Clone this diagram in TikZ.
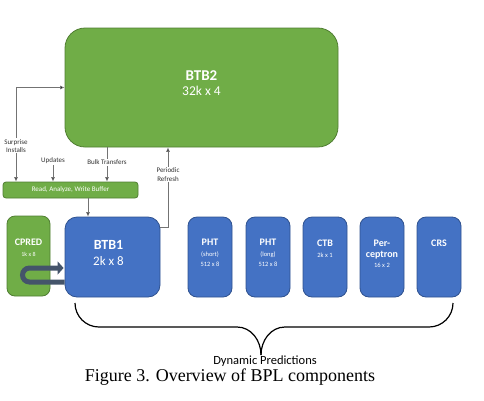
\documentclass[tikz,border=0pt]{standalone}
\usepackage{fontspec}
\setmainfont{Carlito}
\newfontfamily\captionserif{Liberation Serif}
\usepackage{tikz}
\usetikzlibrary{arrows.meta,positioning}
\definecolor{btbgreen}{RGB}{112,173,71}
\definecolor{btbgreenline}{RGB}{80,126,50}
\definecolor{btbblue}{RGB}{68,114,196}
\definecolor{btbblueline}{RGB}{47,82,143}
\definecolor{uturncolor}{RGB}{68,84,106}
\definecolor{labelgray}{RGB}{50,50,50}
\newcommand{\fsz}[1]{\fontsize{#1}{1.2\dimexpr#1pt\relax}\selectfont}

\begin{document}
\begin{tikzpicture}[x=1pt,y=-1pt,
    greenbox/.style={draw=btbgreenline, fill=btbgreen, line width=0.8pt, inner sep=0pt},
    bluebox/.style={draw=btbblueline, fill=btbblue, line width=0.8pt, inner sep=0pt,
      rounded corners=9pt, minimum width=44pt, minimum height=80pt},
    boxtext/.style={text=white, align=center, inner sep=0pt},
    flowlabel/.style={font=\fsz{7}, text=labelgray, align=center, fill=white, inner sep=1pt},
    flow/.style={draw=black!55, line width=0.7pt, -{Latex[length=4.5pt,width=4pt,fill=black]}}]
    \useasboundingbox (0,0) rectangle (484,400);

    % Columns of the connectors
    \coordinate (colsi) at (16,0);
    \coordinate (colupd) at (53,0);
    \coordinate (colbuf) at (88,0);
    \coordinate (colbulk) at (107,0);
    \coordinate (colref) at (168,0);

    % Level 2
    \node[greenbox, rounded corners=20pt, minimum width=273pt, minimum height=119pt,
      label={[boxtext, yshift=4pt]center:{\fsz{15}\bfseries BTB2}\\[3pt]{\fsz{13.5}32k x 4}}]
      (btbtwo) at (201.5,87.5) {};

    % Buffer
    \node[greenbox, rounded corners=3pt, minimum width=135pt, minimum height=16pt,
      font=\fsz{7}, text=white] (buffer) at (70.5,190) {Read, Analyze, Write Buffer};

    % Level 1 and predictors
    \node[greenbox, rounded corners=8pt, minimum width=43pt, minimum height=80pt,
      label={[boxtext, yshift=8pt]center:{\fsz{10}\bfseries CPRED}\\[-1pt]{\fsz{6}1k x 8}}]
      (cpred) at (28.5,256) {};
    \node[bluebox, rounded corners=12pt, minimum width=95pt,
      label={[boxtext, yshift=4pt, xshift=-4pt]center:{\fsz{14}\bfseries BTB1}\\[4pt]{\fsz{13}2k x 8}}]
      (btbone) at (112.5,257) {};
    \node[bluebox, label={[boxtext, yshift=4pt]center:{\fsz{10}\bfseries PHT}\\[-1pt]{\fsz{6.5}(short)}\\[-2pt]{\fsz{6.5}512 x 8}}]
      (phtshort) at (210,257) {};
    \node[bluebox, label={[boxtext, yshift=4pt]center:{\fsz{10}\bfseries PHT}\\[-1pt]{\fsz{6.5}(long)}\\[-2pt]{\fsz{6.5}512 x 8}}]
      (phtlong) at (268,257) {};
    \node[bluebox, label={[boxtext, yshift=8pt]center:{\fsz{10}\bfseries CTB}\\[-1pt]{\fsz{6.5}2k x 1}}]
      (ctb) at (325,257) {};
    \node[bluebox, label={[boxtext, yshift=3pt]center:{\fsz{10}\bfseries Per-}\\[-1pt]{\fsz{10}\bfseries ceptron}\\[-2pt]{\fsz{6.5}16 x 2}}]
      (percep) at (382,257) {};
    \node[bluebox, label={[boxtext, yshift=14pt]center:{\fsz{10}\bfseries CRS}}]
      (crs) at (439,257) {};

    % Transfers
    \draw[flow, {Latex[length=4.5pt,width=4pt,fill=black]}-{Latex[length=4.5pt,width=4pt,fill=black]}]
      (btbtwo.west) -| (buffer.north -| colsi)
      node[flowlabel, pos=0.81] (surprise) {Surprise\\Installs};
    \node[flowlabel] (updates) at (53,161) {Updates};
    \draw[flow] (updates) -- (buffer.north -| colupd);
    \draw[flow] (btbtwo.south -| colbulk) -- (buffer.north -| colbulk)
      node[flowlabel, pos=0.43] (bulk) {Bulk Transfers};
    \draw[flow] (buffer.south -| colbuf) -- (btbone.north -| colbuf);
    \draw[flow] ([yshift=30pt]btbone.east) -| (btbtwo.south -| colref)
      node[flowlabel, pos=0.83] (refresh) {Periodic\\Refresh};

    % U-turn from BTB1 through CPRED
    \draw[uturncolor, line width=5pt, rounded corners=7pt,
      -{Triangle[length=6pt,width=13pt]}]
      ([yshift=-25pt]btbone.west) -- (22.5,282) -- (22.5,268) -- ([yshift=-11pt,xshift=-1pt]btbone.west);

    % Brace
    \draw[line width=1.2pt] (75,303) to[out=-90,in=180] (99,327) -- (237,327)
      to[out=0,in=90] (261,355);
    \draw[line width=1.2pt] (261,355) to[out=90,in=180] (285,327) -- (429,327)
      to[out=0,in=-90] (453,303);

    \node[font=\fsz{12.5}] (dynpred) at (265,361) {Dynamic Predictions};
    \node[font=\captionserif\fsz{18}] (caption) at (230,377) {Figure 3. Overview of BPL components};
\end{tikzpicture}
\end{document}
